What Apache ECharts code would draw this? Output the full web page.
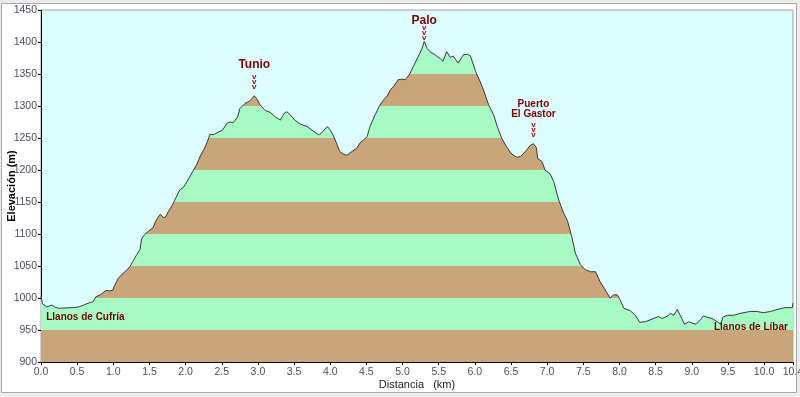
<!DOCTYPE html>
<html>
<head>
<meta charset="utf-8">
<script src="https://cdn.jsdelivr.net/npm/echarts@6/dist/echarts.min.js"></script>
<style>
html,body{margin:0;padding:0;background:#ececec;}
#chart{width:800px;height:397px;}
</style>
</head>
<body>
<div id="chart"></div>
<script>
// Distance (km)
const dist = [0.00,0.02,0.08,0.15,0.19,0.24,0.45,0.52,0.59,0.68,0.72,0.76,0.82,0.84,0.90,0.95,0.99,1.02,1.07,1.12,1.19,1.23,1.27,1.32,1.37,1.39,1.42,1.45,1.55,1.59,1.65,1.69,1.72,1.76,1.81,1.85,1.92,1.97,2.02,2.09,2.15,2.20,2.27,2.34,2.38,2.45,2.51,2.57,2.62,2.66,2.72,2.75,2.82,2.89,2.95,2.98,3.03,3.10,3.17,3.24,3.31,3.36,3.40,3.45,3.51,3.58,3.68,3.75,3.84,3.88,3.96,4.01,4.07,4.13,4.18,4.23,4.30,4.37,4.41,4.46,4.51,4.55,4.62,4.68,4.74,4.78,4.83,4.88,4.94,4.99,5.04,5.10,5.15,5.22,5.27,5.30,5.34,5.38,5.45,5.52,5.56,5.61,5.66,5.70,5.77,5.84,5.90,5.94,6.01,6.07,6.12,6.19,6.26,6.31,6.37,6.44,6.51,6.58,6.63,6.70,6.77,6.81,6.85,6.87,6.93,6.97,7.04,7.09,7.16,7.23,7.28,7.34,7.39,7.46,7.53,7.60,7.67,7.73,7.80,7.87,7.92,7.97,8.01,8.06,8.15,8.22,8.28,8.36,8.45,8.54,8.59,8.67,8.70,8.75,8.80,8.84,8.90,8.96,9.00,9.06,9.12,9.16,9.21,9.28,9.35,9.40,9.43,9.49,9.58,9.67,9.81,9.90,9.99,10.09,10.18,10.29,10.39,10.40];
// Elevation (m)
const elev = [1003,991,986,989,986,984,985,986,989,993,994,1002,1005,1004,1012,1011,1012,1020,1031,1037,1044,1049,1057,1067,1076,1092,1097,1101,1110,1121,1131,1126,1126,1135,1144,1153,1169,1173,1182,1196,1208,1221,1236,1256,1255,1259,1262,1273,1275,1274,1283,1296,1304,1308,1316,1312,1302,1293,1290,1283,1278,1288,1291,1286,1278,1272,1268,1262,1255,1258,1268,1261,1247,1229,1225,1223,1229,1234,1242,1247,1252,1268,1286,1300,1310,1314,1325,1331,1341,1342,1341,1350,1362,1378,1390,1401,1390,1385,1380,1374,1370,1385,1376,1378,1367,1380,1381,1378,1354,1339,1325,1302,1286,1268,1250,1236,1225,1220,1221,1229,1239,1241,1235,1218,1213,1200,1194,1182,1153,1132,1121,1096,1070,1052,1044,1041,1041,1026,1013,1000,1005,1005,997,984,980,973,962,963,967,971,968,972,976,973,982,973,959,963,961,959,966,972,970,968,963,959,970,973,973,976,979,979,977,979,982,985,985,992];

// Elevation colour bands (m)
const bandEdges = [900,950,1000,1050,1100,1150,1200,1250,1300,1350,1400,1450];
const bandColors = ['#c9a679','#a6fbc5'];

// Named places: [label, km, elevation]
const peaks = [['Tunio',2.95,1316],['Palo',5.30,1401],['Puerto\nEl Gastor',6.81,1241]];
const plains = [['Llanos de Cufría',0.065,970],['Llanos de Líbar',9.30,955]];

const pieces = [];
for (let i = 0; i < bandEdges.length - 1; i++) {
  pieces.push({gte: bandEdges[i], lt: bandEdges[i+1], color: bandColors[i % 2]});
}

const chart = echarts.init(document.getElementById('chart'), null, {renderer:'canvas'});
const fontFam = 'Liberation Sans, Arial, sans-serif';

const richStyles = {
  n: {fontSize: 12, fontWeight: 'bold', color: '#800000', fontFamily: fontFam, lineHeight: 14, align: 'center'},
  c: {fontSize: 12, fontWeight: 'bold', color: '#800000', fontFamily: fontFam, lineHeight: 8, align: 'center'},
  s: {fontSize: 10, fontWeight: 'bold', color: '#800000', fontFamily: fontFam, lineHeight: 10, align: 'center'},
  g: {lineHeight: 3, fontSize: 3},
  v: {fontSize: 8, fontWeight: 'bold', color: '#a01010', fontFamily: fontFam, lineHeight: 5, align: 'center'}
};

const markData = [];
peaks.forEach((p, i) => {
  let fmt, dist0 = 6;
  if (p[0].indexOf('\n') >= 0) {
    fmt = p[0].split('\n').map(s => '{s|' + s + '}').join('\n') + '\n{g|}';
  } else if (i === 1) {
    fmt = '{c|' + p[0] + '}';
    dist0 = 1;
  } else {
    fmt = '{n|' + p[0] + '}\n{g|}';
  }
  markData.push({
    coord: [p[1], p[2]],
    label: {
      show: true, position: 'top', distance: dist0,
      formatter: fmt + '\n{v|v}\n{v|v}\n{v|v}',
      rich: richStyles
    }
  });
});
plains.forEach(p => {
  markData.push({
    coord: [p[1], p[2]],
    label: {
      show: true, position: 'right', distance: 0, align: 'left', verticalAlign: 'middle',
      formatter: p[0], fontSize: 10, fontWeight: 'bold', color: '#800000', fontFamily: fontFam
    }
  });
});

chart.setOption({
  backgroundColor: '#ececec',
  animation: false,
  graphic: [{
    type: 'rect', z: -10, silent: true,
    shape: {x: 1.5, y: 3.5, width: 795, height: 389},
    style: {fill: '#ffffff', stroke: '#a8a8a8', lineWidth: 1}
  }],
  grid: {
    left: 41, right: 7, top: 10, bottom: 35, containLabel: false, outerBoundsMode: 'none',
    show: true, backgroundColor: '#dcfcfe', borderColor: '#a0a0a0', borderWidth: 1
  },
  visualMap: {
    show: false, type: 'piecewise', dimension: 1, seriesIndex: 0,
    pieces: pieces
  },
  xAxis: {
    type: 'value', min: 0, max: 10.4, interval: 0.5,
    name: 'Distancia   (km)', nameLocation: 'middle', nameGap: 17, nameMoveOverlap: false,
    nameTextStyle: {fontSize: 11, color: '#222', fontFamily: fontFam},
    axisLine: {show: true, lineStyle: {color: '#000', width: 1}},
    axisTick: {show: true, length: 3, lineStyle: {color: '#000'}},
    axisLabel: {fontSize: 10.5, color: '#4a5060', margin: 5, fontFamily: fontFam,
      formatter: v => v.toFixed(1)},
    splitLine: {show: false}
  },
  yAxis: {
    type: 'value', min: 900, max: 1450, interval: 50,
    name: 'Elevación (m)', nameLocation: 'middle', nameGap: 24, nameMoveOverlap: false,
    nameTextStyle: {fontSize: 11, fontWeight: 'bold', color: '#000', fontFamily: fontFam},
    axisLine: {show: true, lineStyle: {color: '#000', width: 1}},
    axisTick: {show: true, length: 3, lineStyle: {color: '#000'}},
    axisLabel: {fontSize: 10.5, color: '#4a5060', margin: 4, fontFamily: fontFam,
      formatter: v => String(v)},
    splitLine: {show: false}
  },
  series: [{
    type: 'line',
    data: dist.map((d, i) => [d, elev[i]]),
    showSymbol: false, symbol: 'none',
    lineStyle: {color: '#3a3a3a', width: 1},
    areaStyle: {opacity: 1},
    markPoint: {
      silent: true, symbol: 'circle', symbolSize: 1,
      itemStyle: {color: 'rgba(0,0,0,0)'},
      data: markData
    }
  }]
});
</script>
</body>
</html>
